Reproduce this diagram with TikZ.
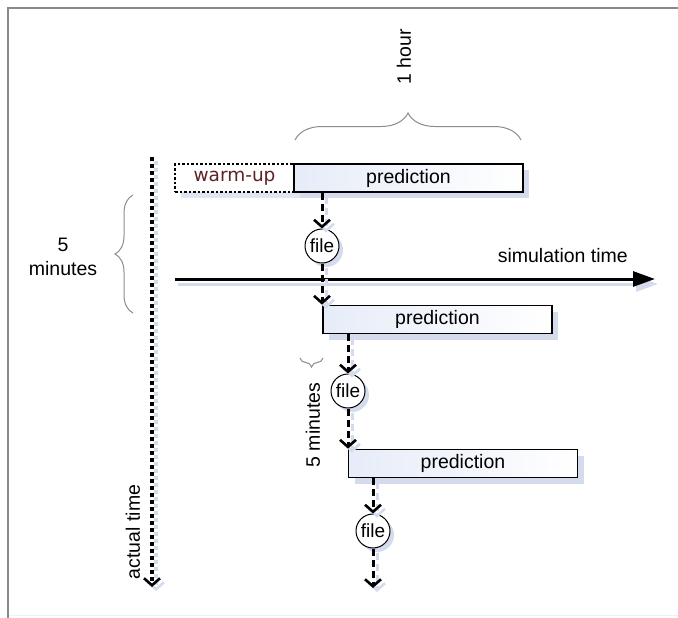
\documentclass[tikz,border=0pt]{standalone}
\usepackage{fontspec}
\setmainfont{Liberation Sans}
\newfontfamily\verdfont{DejaVu Sans}
\usetikzlibrary{arrows.meta,decorations.pathreplacing,shadows,calc}
\definecolor{shadowc}{HTML}{D3DBEC}
\definecolor{boxblue}{HTML}{E6ECF8}
\definecolor{warmred}{HTML}{5E2222}
\definecolor{bracegray}{HTML}{8C8C8C}
\definecolor{framegray}{HTML}{8A8A8A}
\begin{document}
\begin{tikzpicture}[x=1pt,y=-1pt,
  lbl/.style={font=\fontsize{19.5}{24}\selectfont, inner sep=0pt},
  predbox/.style={draw=black, line width=1.8pt, left color=boxblue, right color=white,
    minimum width=229pt, minimum height=28pt, inner sep=0pt,
    font=\fontsize{19.5}{22}\selectfont,
    drop shadow={shadow xshift=6pt, shadow yshift=-6pt, fill=shadowc, opacity=1}},
  warmbox/.style={draw=black, line width=1.4pt, dash pattern=on 2.5pt off 2pt, fill=white,
    minimum width=119pt, minimum height=28pt, inner sep=0pt,
    font=\verdfont\fontsize{18.5}{22}\selectfont, text=warmred,
    drop shadow={shadow xshift=6pt, shadow yshift=-6pt, fill=shadowc!70, opacity=1}},
  filenode/.style={circle, draw=black, line width=1pt, fill=white, minimum size=34pt,
    inner sep=0pt, font=\fontsize{19}{22}\selectfont,
    drop shadow={shadow xshift=4pt, shadow yshift=-4pt, fill=shadowc, opacity=1}},
  flowarrow/.style={line width=3pt, dash pattern=on 7pt off 4pt,
    -{Straight Barb[length=7pt,width=16pt,line width=2.6pt]}},
  flowshadow/.style={flowarrow, draw=shadowc, transform canvas={shift={(4pt,-4pt)}}},
  timearrow/.style={line width=3.5pt, dash pattern=on 4pt off 3pt,
    -{Straight Barb[length=7pt,width=16pt,line width=2.6pt]}},
  timeshadow/.style={timearrow, draw=shadowc, transform canvas={shift={(4pt,-4pt)}}},
  simarrow/.style={line width=3pt, -{Triangle[length=22pt,width=15pt]}},
  simshadow/.style={simarrow, draw=shadowc, fill=shadowc, transform canvas={shift={(3pt,-5pt)}}},
  bracestyle/.style={draw=bracegray, line width=1pt, decorate},
]
\useasboundingbox (0,0) rectangle (678,618);
% frame
\draw[framegray, line width=2pt] (8,618) -- (8,8) -- (678,8);
\draw[black!6, line width=1pt] (9,615.5) -- (678,615.5);

% time axes
\coordinate (atstart) at (152,157);
\coordinate (atend) at (152,587);
\coordinate (ststart) at (175,279);
\coordinate (stend) at (655,279);
\draw[timeshadow] (atstart) -- (atend);
\draw[simshadow] (ststart) -- (stend);
\draw[timearrow] (atstart) -- (atend);
\draw[simarrow] (ststart) -- (stend);

% boxes
\node[warmbox] (warm) at (234.5,178) {warm-up};
\node[predbox] (pred1) at (408.5,178) {prediction};
\node[filenode] (file1) at (322,246) {file};
\node[predbox] (pred2) at (437.5,319.5) {prediction};
\node[filenode] (file2) at (348,391) {file};
\node[predbox] (pred3) at (463,463.5) {prediction};
\node[filenode] (file3) at (373,531) {file};
\coordinate (endp) at (373,588);

% connector shadows
\draw[flowshadow] (pred1.south -| file1) -- (file1.north);
\draw[flowshadow] (file1.south) -- (file1.south |- pred2.north);
\draw[flowshadow] (pred2.south -| file2) -- (file2.north);
\draw[flowshadow] (file2.south) -- (file2.south |- pred3.north);
\draw[flowshadow] (pred3.south -| file3) -- (file3.north);
\draw[flowshadow] (file3.south) -- (endp);
% connectors
\draw[flowarrow] (pred1.south -| file1) -- (file1.north);
\draw[flowarrow] (file1.south) -- (file1.south |- pred2.north);
\draw[flowarrow] (pred2.south -| file2) -- (file2.north);
\draw[flowarrow] (file2.south) -- (file2.south |- pred3.north);
\draw[flowarrow] (pred3.south -| file3) -- (file3.north);
\draw[flowarrow] (file3.south) -- (endp);

% labels
\node[lbl, anchor=base east] (simlbl) at (628,262.5) {simulation time};
\node[lbl, rotate=90] (atlbl) at (133,532) {actual time};
\node[lbl, rotate=90] (hourlbl) at (404,57) {1 hour};
\node[lbl, rotate=90] (minlbl) at (313,425) {5 minutes};
\node[lbl, align=center] (fivemin) at (63,257) {5\\minutes};

% braces
\draw[bracestyle, decoration={brace, amplitude=27pt}] (295,140) -- (521,140);
\draw[bracestyle, decoration={brace, amplitude=18pt}] (133,313) -- (133,195);
\draw[bracestyle, decoration={brace, amplitude=9pt}] (323,358) -- (300,358);
\end{tikzpicture}
\end{document}
